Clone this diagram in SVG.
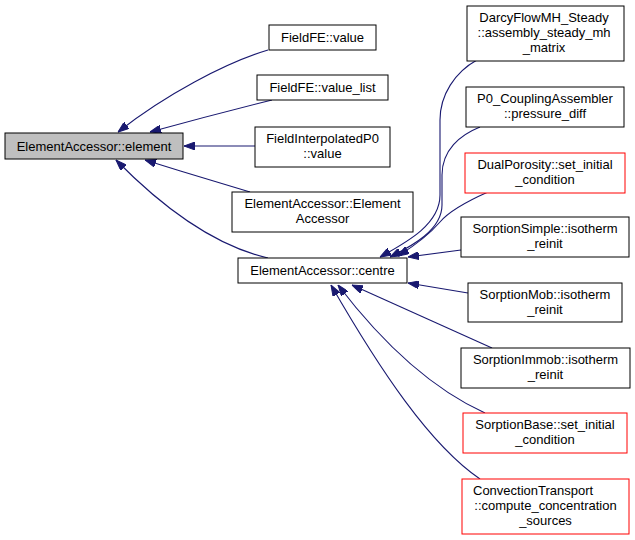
<svg xmlns="http://www.w3.org/2000/svg" width="635" height="540" viewBox="0 0 635 540">
<defs>
<style>
.n rect{fill:#ffffff;stroke:#000000;stroke-width:1}
.n.r rect{stroke:#ff0000}
.n.g rect{fill:#bfbfbf}
.n text{font-family:"Liberation Sans",Arial,sans-serif;font-size:13px;fill:#000000;text-anchor:middle}
.e path{fill:none;stroke:#191970;stroke-width:1.1;marker-end:url(#ah)}
</style>
<marker id="ah" markerUnits="userSpaceOnUse" viewBox="0 0 11 8" refX="11" refY="4" markerWidth="11" markerHeight="8" orient="auto">
<polygon points="0,0 11,4 0,8" fill="#191970" stroke="#191970" stroke-width="1"/>
</marker>
</defs>
<rect width="635" height="540" fill="#ffffff"/>
<g id="connectors" class="e">
<path d="M268,50 C225,63 165,95 118,132"/>
<path d="M272,100 C240,108 190,121 150,132"/>
<path d="M255,146 L184,146"/>
<path d="M250,192 C220,183 180,171 145,160"/>
<path d="M268,258 C220,247 170,215 116,160"/>
<path d="M477,60 C455,72 440,95 440,120 L440,195 C440,225 405,243 380,257"/>
<path d="M480,127 C460,135 442,150 442,175 L442,205 C442,230 412,246 390,257"/>
<path d="M488,192 C470,200 450,210 440,222 C428,236 414,246 398,256"/>
<path d="M461,250 L408,257"/>
<path d="M468,293 L408,283"/>
<path d="M492,348 L352,285"/>
<path d="M485,413 C430,388 380,340 338,285"/>
<path d="M480,479 C430,445 380,370 331,285"/>
</g>
<g id="n_element" class="n g"><rect x="5" y="133" width="178" height="26"/><text x="94" y="150.5">ElementAccessor::element</text></g>
<g id="n_fieldfe_value" class="n"><rect x="269" y="25" width="107" height="25"/><text x="322.5" y="42">FieldFE::value</text></g>
<g id="n_fieldfe_value_list" class="n"><rect x="257" y="75" width="131" height="25"/><text x="322.5" y="92">FieldFE::value_list</text></g>
<g id="n_fieldinterp" class="n"><rect x="255" y="127" width="135" height="40"/><text x="322.5" y="143">FieldInterpolatedP0</text><text x="322.5" y="158">::value</text></g>
<g id="n_ctor" class="n"><rect x="232" y="192" width="181" height="40"/><text x="322.5" y="208">ElementAccessor::Element</text><text x="322.5" y="223">Accessor</text></g>
<g id="n_centre" class="n"><rect x="238" y="258" width="169" height="25"/><text x="322.5" y="275">ElementAccessor::centre</text></g>
<g id="n_darcy" class="n"><rect x="467" y="6" width="157" height="55"/><text x="544" y="22">DarcyFlowMH_Steady</text><text x="544" y="37">::assembly_steady_mh</text><text x="544" y="52">_matrix</text></g>
<g id="n_p0" class="n"><rect x="466" y="87" width="158" height="40"/><text x="545" y="103">P0_CouplingAssembler</text><text x="545" y="118">::pressure_diff</text></g>
<g id="n_dual" class="n r"><rect x="465" y="153" width="160" height="40"/><text x="545" y="169">DualPorosity::set_initial</text><text x="545" y="184">_condition</text></g>
<g id="n_simple" class="n"><rect x="461" y="217" width="168" height="40"/><text x="545" y="233">SorptionSimple::isotherm</text><text x="545" y="248">_reinit</text></g>
<g id="n_mob" class="n"><rect x="468" y="283" width="154" height="39"/><text x="545" y="299">SorptionMob::isotherm</text><text x="545" y="314">_reinit</text></g>
<g id="n_immob" class="n"><rect x="461" y="348" width="169" height="40"/><text x="545.5" y="364">SorptionImmob::isotherm</text><text x="545.5" y="379">_reinit</text></g>
<g id="n_base" class="n r"><rect x="463" y="413" width="164" height="40"/><text x="545" y="429">SorptionBase::set_initial</text><text x="545" y="444">_condition</text></g>
<g id="n_conv" class="n r"><rect x="462" y="479" width="167" height="55"/><text x="473" y="495" style="text-anchor:start">ConvectionTransport</text><text x="545.5" y="510">::compute_concentration</text><text x="545.5" y="525">_sources</text></g>
</svg>
